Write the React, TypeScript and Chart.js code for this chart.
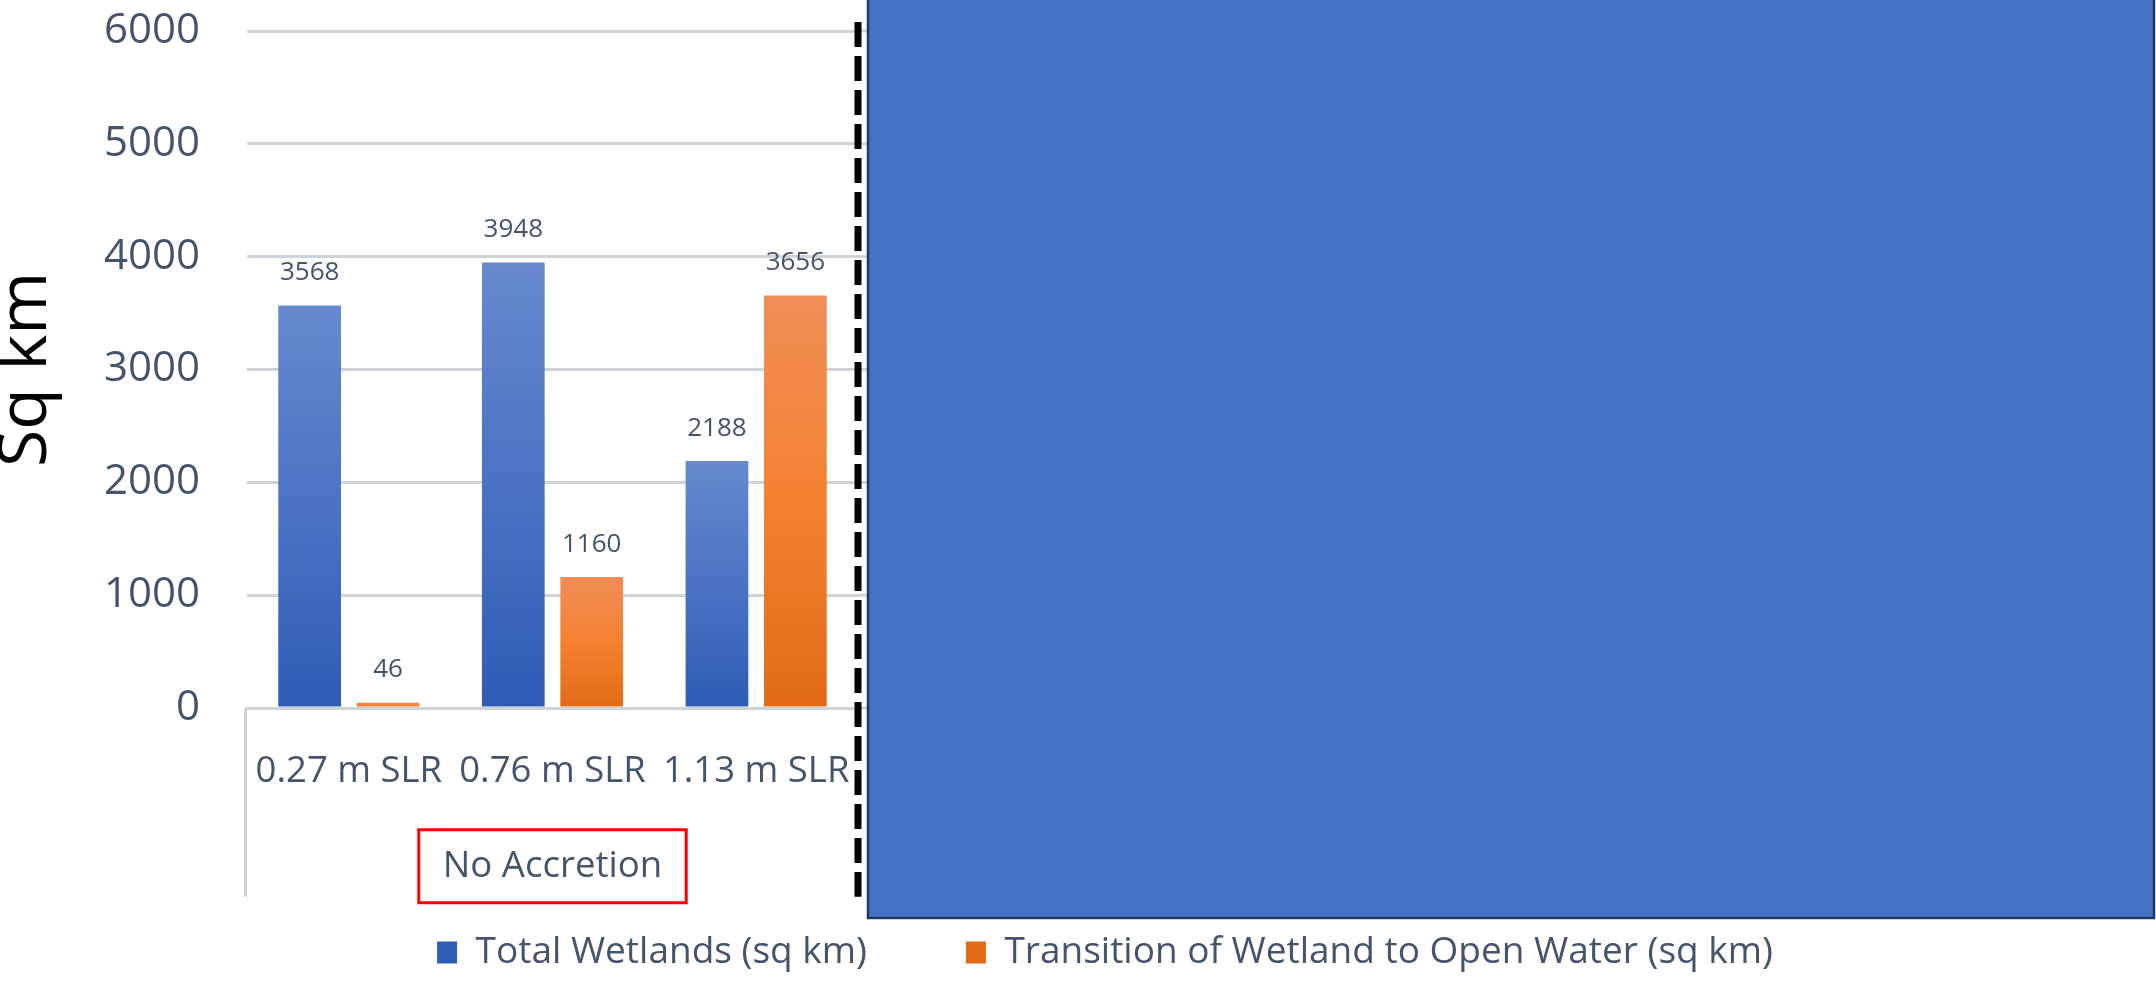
import { useEffect, useRef } from 'react';
import { Chart, registerables } from 'chart.js';

Chart.register(...registerables);

// ---- data ----
const categories = ['0.27 m SLR', '0.76 m SLR', '1.13 m SLR'];
const groupLabels = ['No Accretion'];
const seriesNames = ['Total Wetlands (sq km)', 'Transition of Wetland to Open Water (sq km)'];
const totalWetlands = [3568, 3948, 2188];
const transitionToOpenWater = [46, 1160, 3656];
const yMin = 0;
const yMax = 6000;
const yStep = 1000;
const yTitle = 'Sq km';

// ---- styles ----
const FONT = '"Open Sans", "Noto Sans", sans-serif';
const TEXT = '#44546A';
const GRID = '#cfd2d7';
const GROUP_FONT = 36.6;
const GROUP_PAD = -80.7;

function gradientFill(stops: [number, string][], solid: string) {
  return (c: any) => {
    const chart = c.chart;
    if (!chart.chartArea || c.type !== 'data' || !c.parsed) return solid;
    const ys = chart.scales.y;
    const top = ys.getPixelForValue(c.parsed.y);
    const base = ys.getPixelForValue(0);
    if (!isFinite(top) || !isFinite(base) || base - top < 1) return stops[0][1];
    const g = chart.ctx.createLinearGradient(0, top, 0, base);
    stops.forEach(([o, col]) => g.addColorStop(o, col));
    return g;
  };
}

const overlayPlugin = {
  id: 'overlay',
  afterDraw(chart: any) {
    const { ctx, chartArea, scales } = chart;
    const x2 = scales.x2;
    const ys = scales.y;
    ctx.save();

    // value labels above bars
    ctx.font = `26px ${FONT}`;
    ctx.fillStyle = TEXT;
    ctx.textAlign = 'center';
    ctx.textBaseline = 'middle';
    chart.data.datasets.forEach((ds: any, i: number) => {
      const meta = chart.getDatasetMeta(i);
      meta.data.forEach((el: any, j: number) => {
        ctx.fillText(String(ds.data[j]), el.x, el.y - 33);
      });
    });

    // group label box + group separator line
    const groupY = x2.top - GROUP_PAD - (GROUP_FONT * 1.2) / 2;
    const groupX = x2.getPixelForValue(0);
    ctx.font = `${GROUP_FONT}px ${FONT}`;
    const tw = ctx.measureText(groupLabels[0]).width;
    ctx.strokeStyle = '#ff0000';
    ctx.lineWidth = 3;
    ctx.strokeRect(groupX - tw / 2 - 24, groupY - 37, tw + 48, 73);

    const lineEnd = groupY + 30;
    ctx.strokeStyle = GRID;
    ctx.lineWidth = 3;
    ctx.beginPath();
    ctx.moveTo(chartArea.left - 1.5, chartArea.bottom);
    ctx.lineTo(chartArea.left - 1.5, lineEnd);
    ctx.stroke();

    // gridline stubs between dashed line and cover panel
    const panelLeft = chartArea.right + 10;
    ys.ticks.forEach((t: any) => {
      const y = ys.getPixelForValue(t.value);
      ctx.beginPath();
      ctx.moveTo(chartArea.right, y);
      ctx.lineTo(panelLeft, y);
      ctx.stroke();
    });

    // dashed divider
    ctx.strokeStyle = '#000000';
    ctx.lineWidth = 7;
    ctx.setLineDash([25, 9]);
    ctx.beginPath();
    ctx.moveTo(chartArea.right, 22);
    ctx.lineTo(chartArea.right, lineEnd);
    ctx.stroke();
    ctx.setLineDash([]);

    // cover panel
    const panelBottom = chart.height - 63;
    ctx.fillStyle = '#4472C4';
    ctx.fillRect(panelLeft, -5, chart.width - 1 - panelLeft, panelBottom + 5);
    ctx.strokeStyle = '#1f3864';
    ctx.lineWidth = 2.5;
    ctx.strokeRect(panelLeft, -5, chart.width - 2 - panelLeft, panelBottom + 5);
    ctx.restore();
  },
};

export default function App() {
  const ref = useRef<HTMLCanvasElement>(null);

  useEffect(() => {
    if (!ref.current) return;
    Chart.defaults.font.family = FONT;
    const chart = new Chart(ref.current, {
      type: 'bar',
      data: {
        labels: categories,
        datasets: [
          {
            label: seriesNames[0],
            data: totalWetlands,
            xAxisID: 'x',
            yAxisID: 'y',
            backgroundColor: gradientFill(
              [
                [0, '#6689cf'],
                [1, '#2e5db6'],
              ],
              '#4472C4'
            ),
          },
          {
            label: seriesNames[1],
            data: transitionToOpenWater,
            xAxisID: 'x',
            yAxisID: 'y',
            backgroundColor: gradientFill(
              [
                [0, '#f08d57'],
                [0.5, '#f48130'],
                [1, '#e26a17'],
              ],
              '#ED7D31'
            ),
          },
        ],
      },
      options: {
        responsive: true,
        maintainAspectRatio: false,
        animation: false,
        devicePixelRatio: 1,
        layout: { padding: { top: 31, left: 54, right: 0, bottom: 0 } },
        datasets: { bar: { barPercentage: 0.8, categoryPercentage: 0.77 } },
        plugins: {
          tooltip: { enabled: false },
          legend: {
            position: 'bottom',
            labels: {
              boxWidth: 20,
              boxHeight: 22,
              padding: 99,
              color: TEXT,
              font: { size: 37 },
            },
          },
        },
        scales: {
          x: {
            type: 'category',
            position: 'bottom',
            grid: { display: false, drawTicks: false },
            border: { display: true, color: GRID, width: 3 },
            ticks: {
              color: TEXT,
              font: { size: 36.5 },
              padding: 41.8,
              autoSkip: false,
              maxRotation: 0,
              minRotation: 0,
            },
            afterFit: (s: any) => {
              s.height = 100;
            },
          },
          x2: {
            type: 'category',
            position: 'bottom',
            labels: groupLabels,
            offset: true,
            grid: { display: false, drawTicks: false },
            border: { display: false },
            ticks: {
              color: TEXT,
              font: { size: GROUP_FONT },
              padding: GROUP_PAD,
              mirror: true,
              maxRotation: 0,
              minRotation: 0,
            },
            afterFit: (s: any) => {
              s.height = 27;
            },
          },
          y: {
            type: 'linear',
            position: 'left',
            min: yMin,
            max: yMax,
            ticks: {
              stepSize: yStep,
              color: TEXT,
              font: { size: 42 },
              padding: 5,
              callback: (v: any) => String(v),
            },
            grid: {
              color: GRID,
              lineWidth: 3,
              drawTicks: true,
              tickLength: 42,
              tickColor: 'rgba(0,0,0,0)',
            },
            border: { display: false },
            title: {
              display: true,
              text: yTitle,
              color: '#000000',
              font: { size: 68 },
              padding: { top: -67.8, bottom: 0 },
            },
            afterFit: (s: any) => {
              s.width = 193;
            },
          },
          yR: {
            type: 'linear',
            position: 'right',
            display: true,
            grid: { display: false, drawTicks: false },
            border: { display: false },
            ticks: { display: false },
            afterFit: (s: any) => {
              s.width = 1298;
            },
          },
        },
      },
      plugins: [overlayPlugin],
    } as any);
    return () => chart.destroy();
  }, []);

  return (
    <div style={{ position: 'absolute', left: 0, top: 0, width: 2156, height: 981, background: '#ffffff' }}>
      <canvas ref={ref} />
    </div>
  );
}
